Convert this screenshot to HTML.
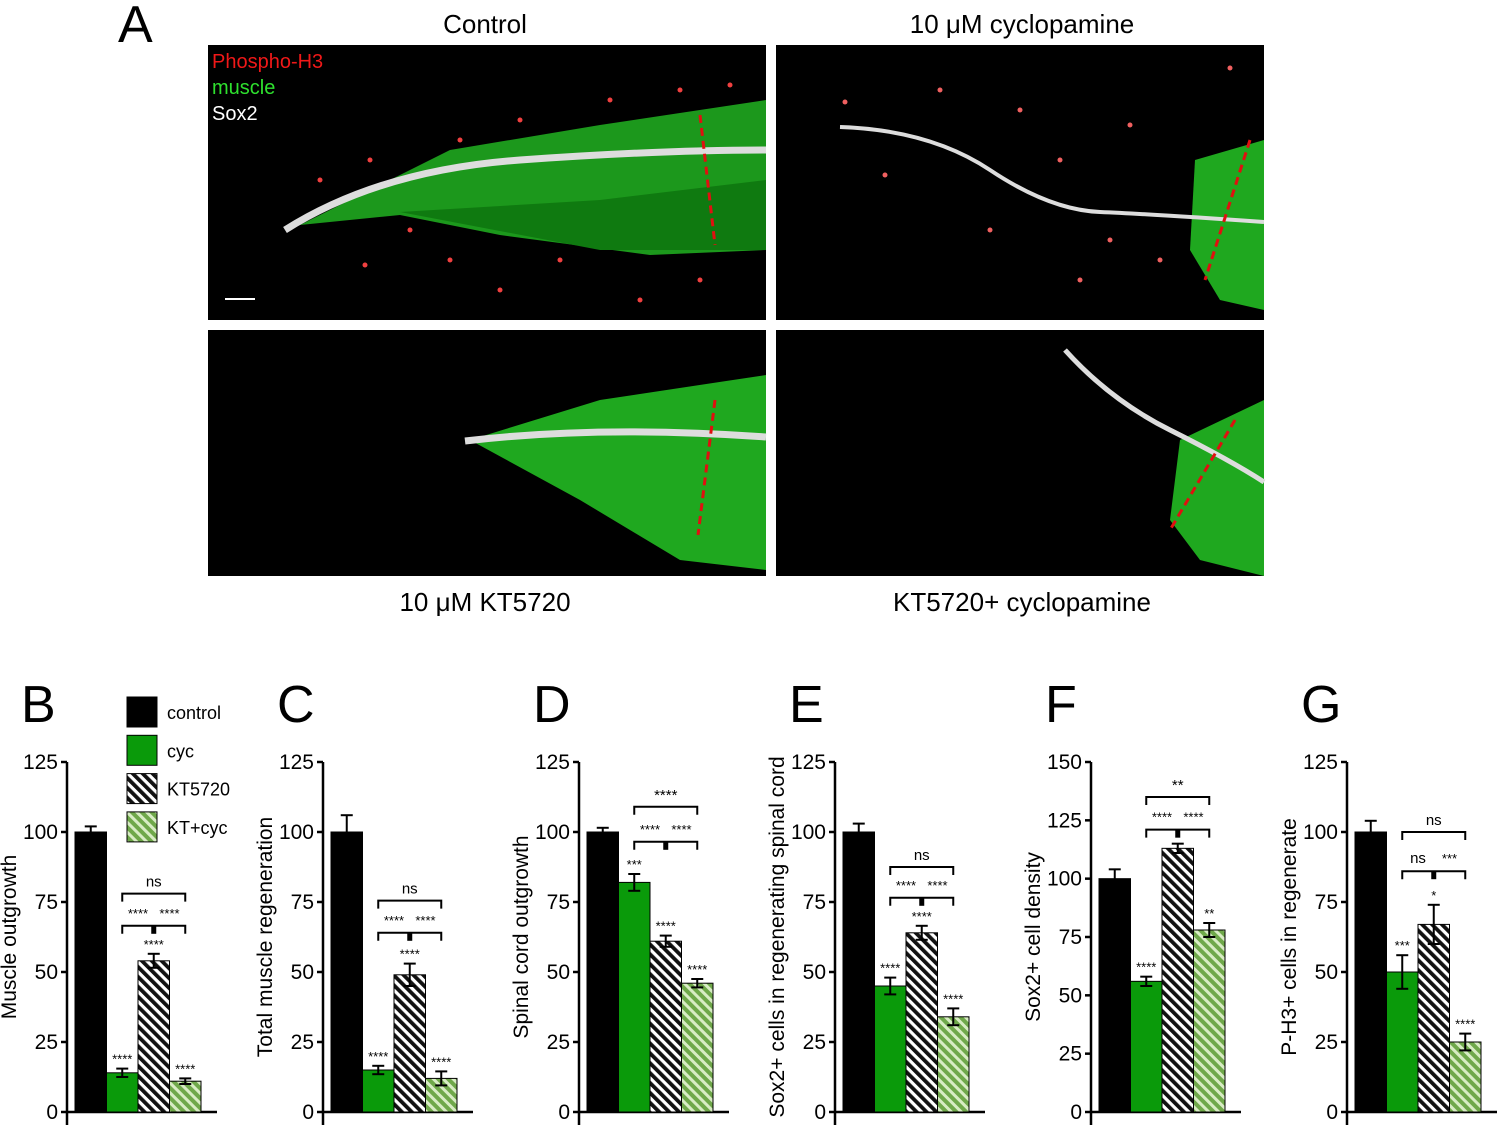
<!DOCTYPE html>
<html><head><meta charset="utf-8">
<style>
html,body{margin:0;padding:0;background:#fff;}
body{width:1500px;height:1129px;overflow:hidden;font-family:"Liberation Sans",Arial,sans-serif;}
svg text{font-family:"Liberation Sans",Arial,sans-serif;}
</style></head>
<body>
<svg id="fig" width="1500" height="1129" viewBox="0 0 1500 1129" xmlns="http://www.w3.org/2000/svg">
<defs>
<pattern id="hatchK" patternUnits="userSpaceOnUse" width="7" height="7" patternTransform="rotate(-45)">
<rect width="7" height="7" fill="#fff"/><rect width="3.8" height="7" fill="#111"/></pattern>
<pattern id="hatchG" patternUnits="userSpaceOnUse" width="7" height="7" patternTransform="rotate(-45)">
<rect width="7" height="7" fill="#d8ecc4"/><rect width="4" height="7" fill="#6fa84a"/></pattern>
</defs>
<g>
<text x="118" y="42" font-size="52">A</text>
<text x="485" y="33" font-size="26" text-anchor="middle">Control</text>
<text x="1022" y="33" font-size="26" text-anchor="middle">10 μM cyclopamine</text>
<text x="485" y="611" font-size="26" text-anchor="middle">10 μM KT5720</text>
<text x="1022" y="611" font-size="26" text-anchor="middle">KT5720+ cyclopamine</text>
<g>
<rect x="208" y="45" width="558" height="275" fill="#000"/>
<polygon points="300,225 450,150 600,125 766,100 766,250 650,255 500,235 400,215" fill="#1fa81f" opacity="0.9"/>
<polygon points="400,212 600,200 766,180 766,250 600,250" fill="#0f7a10"/>
<path d="M285,230 Q380,170 520,160 T766,150" stroke="#ddd" stroke-width="7" fill="none"/>
<line x1="700" y1="115" x2="715" y2="245" stroke="#e01010" stroke-width="3" stroke-dasharray="8,5"/>
<line x1="225" y1="299" x2="255" y2="299" stroke="#fff" stroke-width="2"/>
<text x="212" y="68" font-size="20" fill="#f01818">Phospho-H3</text>
<text x="212" y="94" font-size="20" fill="#2ee02e">muscle</text>
<text x="212" y="120" font-size="20" fill="#fff">Sox2</text>
<g fill="#f04040"><circle cx="320" cy="180" r="2.5"/><circle cx="370" cy="160" r="2.5"/><circle cx="410" cy="230" r="2.5"/><circle cx="460" cy="140" r="2.5"/><circle cx="520" cy="120" r="2.5"/><circle cx="560" cy="260" r="2.5"/><circle cx="610" cy="100" r="2.5"/><circle cx="680" cy="90" r="2.5"/><circle cx="700" cy="280" r="2.5"/><circle cx="365" cy="265" r="2.5"/><circle cx="500" cy="290" r="2.5"/><circle cx="640" cy="300" r="2.5"/><circle cx="730" cy="85" r="2.5"/><circle cx="450" cy="260" r="2.5"/></g>
</g>
<g>
<rect x="776" y="45" width="488" height="275" fill="#000"/>
<polygon points="1195,160 1264,140 1264,310 1220,300 1190,250" fill="#1fa81f"/>
<path d="M840,127 Q930,130 990,170 T1100,212 T1264,222" stroke="#ddd" stroke-width="4" fill="none"/>
<line x1="1250" y1="140" x2="1205" y2="280" stroke="#e01010" stroke-width="3" stroke-dasharray="8,5"/>
<g fill="#f06060"><circle cx="845" cy="102" r="2.5"/><circle cx="940" cy="90" r="2.5"/><circle cx="1020" cy="110" r="2.5"/><circle cx="885" cy="175" r="2.5"/><circle cx="1060" cy="160" r="2.5"/><circle cx="1130" cy="125" r="2.5"/><circle cx="1160" cy="260" r="2.5"/><circle cx="1080" cy="280" r="2.5"/><circle cx="1230" cy="68" r="2.5"/><circle cx="1110" cy="240" r="2.5"/><circle cx="990" cy="230" r="2.5"/></g>
</g>
<g>
<rect x="208" y="330" width="558" height="246" fill="#000"/>
<polygon points="470,440 600,400 766,375 766,570 680,560 580,500" fill="#1fa81f"/>
<path d="M465,441 Q600,425 766,437" stroke="#ddd" stroke-width="7" fill="none"/>
<line x1="715" y1="400" x2="698" y2="535" stroke="#e01010" stroke-width="3" stroke-dasharray="8,5"/>
</g>
<g>
<rect x="776" y="330" width="488" height="246" fill="#000"/>
<polygon points="1180,440 1264,400 1264,576 1200,560 1170,520" fill="#1fa81f"/>
<path d="M1065,350 Q1110,400 1170,430 T1264,482" stroke="#ddd" stroke-width="5" fill="none"/>
<line x1="1235" y1="420" x2="1170" y2="530" stroke="#e01010" stroke-width="3" stroke-dasharray="8,5"/>
</g>
</g>
<g id="charts"></g>
</svg>
<script>
const chartLetters = ["B","C","D","E","F","G"];
const yTitles = ["Muscle outgrowth","Total muscle regeneration","Spinal cord outgrowth","Sox2+ cells in regenerating spinal cord","Sox2+ cell density","P-H3+ cells in regenerate"];
const yMaxes = [125,125,125,125,150,125];
const meansB = [100,14,54,11], errB = [2,1.5,2.5,1], starsB = ["","****","****","****"];
const meansC = [100,15,49,12], errC = [6,1.5,4,2.5], starsC = ["","****","****","****"];
const meansD = [100,82,61,46], errD = [1.5,3,2,1.5], starsD = ["","***","****","****"];
const meansE = [100,45,64,34], errE = [3,3,2.5,3], starsE = ["","****","****","****"];
const meansF = [100,56,113,78], errF = [4,2,2,3], starsF = ["","****","*","**"];
const meansG = [100,50,67,25], errG = [4,6,7,3], starsG = ["","***","*","****"];
const upperLabels = ["ns","ns","****","ns","**","ns"];
const lowerLeftLabels = ["****","****","****","****","****","ns"];
const lowerRightLabels = ["****","****","****","****","****","***"];
const upperValues = [78,75.5,109,87.5,135,100];
const lowerValues = [66.5,64,96.5,76.5,121,86];
const legendLabels = ["control","cyc","KT5720","KT+cyc"];

const allMeans=[meansB,meansC,meansD,meansE,meansF,meansG];
const allErr=[errB,errC,errD,errE,errF,errG];
const allStars=[starsB,starsC,starsD,starsE,starsF,starsG];
const fills=["#000","#0a9a0a","url(#hatchK)","url(#hatchG)"];
const NS="http://www.w3.org/2000/svg";
const root=document.getElementById('charts');
function mk(tag,attrs,parent,txt){const e=document.createElementNS(NS,tag);for(const k in attrs)e.setAttribute(k,attrs[k]);if(txt!==undefined)e.textContent=txt;parent.appendChild(e);return e;}
const Y0=1112,YT=762;
chartLetters.forEach((L,ci)=>{
  const ax=67+ci*256;
  const ymax=yMaxes[ci];
  const y=v=>Y0-(v/ymax)*(Y0-YT);
  const bx=i=>ax+8+i*31.5;
  const g=mk('g',{},root);
  
  
  const lt=mk('text',{x:ax-46,y:722,'font-size':52},g,L);
  
  
  const yt=mk('text',{transform:`translate(${ax-51},937) rotate(-90)`,'font-size':21,'text-anchor':'middle'},g,yTitles[ci]);
  
  
  const yl=mk('line',{x1:ax,y1:YT,x2:ax,y2:1125,stroke:'#000','stroke-width':2.5},g);
  
  
  const xl=mk('line',{x1:ax,y1:Y0,x2:ax+150,y2:Y0,stroke:'#000','stroke-width':2.5},g);
  
  
  for(let t=0;t<=ymax;t+=25){
    mk('line',{x1:ax-6,y1:y(t),x2:ax,y2:y(t),stroke:'#000','stroke-width':2.5},g);
    const tl=mk('text',{x:ax-9,y:y(t)+7,'font-size':21,'text-anchor':'end'},g,String(t));
    
    
  }
  allMeans[ci].forEach((m,i)=>{
    const r=mk('rect',{x:bx(i),y:y(m),width:31.5,height:Y0-y(m),fill:fills[i],stroke:'#000','stroke-width':1},g);
    
    
    const cx=bx(i)+15.75, e=allErr[ci][i];
    const top=y(m+e), bot=i===0?y(m):y(m-e);
    mk('line',{x1:cx,y1:top,x2:cx,y2:bot,stroke:'#000','stroke-width':2},g);
    mk('line',{x1:cx-6,y1:top,x2:cx+6,y2:top,stroke:'#000','stroke-width':2},g);
    if(i>0) mk('line',{x1:cx-6,y1:bot,x2:cx+6,y2:bot,stroke:'#000','stroke-width':2},g);
    if(allStars[ci][i]){
      const s=mk('text',{x:cx,y:top-5,'font-size':13,'text-anchor':'middle'},g,allStars[ci][i]);
      
      
    }
  });
  const c1=bx(1)+15.75,c2=bx(2)+15.75,c3=bx(3)+15.75;
  const uy=y(upperValues[ci]), ly=y(lowerValues[ci]);
  const ub=mk('path',{d:`M${c1},${uy+8}V${uy}H${c3}V${uy+8}`,stroke:'#000','stroke-width':2,fill:'none'},g);
  
  
  const ut=mk('text',{x:(c1+c3)/2,y:uy-7,'font-size':15,'text-anchor':'middle'},g,upperLabels[ci]);
  
  
  const lb=mk('path',{d:`M${c1},${ly+8}V${ly}H${c3}V${ly+8}`,stroke:'#000','stroke-width':2,fill:'none'},g);
  
  
  mk('rect',{x:c2-2.5,y:ly,width:5,height:8,fill:'#000'},g);
  const t1=mk('text',{x:(c1+c2)/2,y:ly-8,'font-size':lowerLeftLabels[ci]==='ns'?15:13,'text-anchor':'middle'},g,lowerLeftLabels[ci]);
  
  
  const t2=mk('text',{x:(c2+c3)/2,y:ly-8,'font-size':13,'text-anchor':'middle'},g,lowerRightLabels[ci]);
  
  
});
const lg=mk('g',{},root);


legendLabels.forEach((lab,i)=>{
  const yy=697+i*38.3;
  const sw=mk('rect',{x:127,y:yy,width:30,height:30,fill:fills[i],stroke:'#000','stroke-width':1},lg);
  
  
  const t=mk('text',{x:167,y:yy+22,'font-size':18},lg,lab);
  
  
});
</script>
</body></html>
